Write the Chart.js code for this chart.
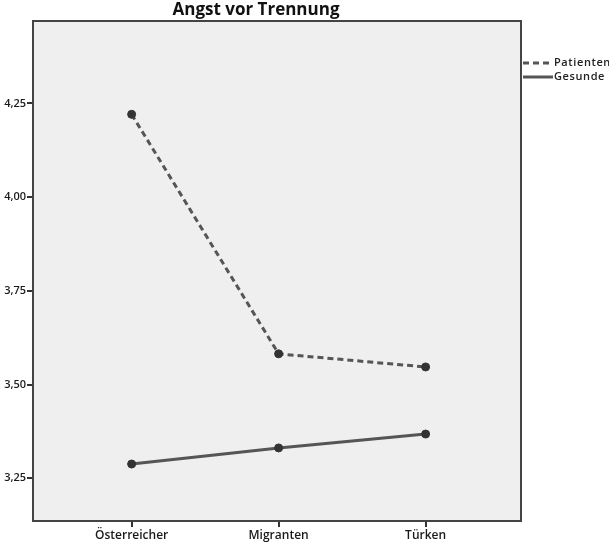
<!DOCTYPE html>
<html><head><meta charset="utf-8">
<script src="https://cdn.jsdelivr.net/npm/chart.js@4/dist/chart.umd.min.js"></script>
<style>html,body{margin:0;padding:0;background:#fff}#wrap{width:609px;height:544px}</style>
</head><body><div id="wrap"><canvas id="c" width="609" height="544"></canvas></div>
<script>
const title = "Angst vor Trennung";
const categories = ["Österreicher", "Migranten", "Türken"];
const patienten = [4.221, 3.582, 3.547];
const gesunde = [3.288, 3.331, 3.368];
const yTicks = [3.25, 3.50, 3.75, 4.00, 4.25];
const seriesNames = ["Patienten", "Gesunde"];

const FONT = "'Open Sans', 'DejaVu Sans', sans-serif";

const framePlugin = {
  id: 'frame',
  beforeDraw(chart) {
    const {ctx, chartArea: a} = chart;
    ctx.save();
    ctx.fillStyle = '#efefef';
    ctx.fillRect(a.left, a.top, a.right - a.left, a.bottom - a.top);
    ctx.restore();
  },
  afterDraw(chart) {
    const {ctx, chartArea: a} = chart;
    ctx.save();
    ctx.strokeStyle = '#444';
    ctx.lineWidth = 2;
    ctx.strokeRect(a.left, a.top, a.right - a.left, a.bottom - a.top);
    // title
    ctx.fillStyle = '#111';
    ctx.font = "bold 17px " + FONT;
    ctx.textAlign = 'center';
    ctx.textBaseline = 'alphabetic';
    ctx.fillText(title, 256, 15);
    // legend
    ctx.font = "600 11px " + FONT;
    try { ctx.letterSpacing = '0.6px'; } catch (e) {}
    ctx.textAlign = 'left';
    ctx.textBaseline = 'middle';
    chart.data.datasets.forEach((ds, i) => {
      const y = 63 + i * 14;
      ctx.strokeStyle = '#555';
      ctx.lineWidth = 3;
      ctx.setLineDash(ds.borderDash ? [6, 4] : []);
      ctx.beginPath();
      ctx.moveTo(523, y); ctx.lineTo(553, y); ctx.stroke();
      ctx.setLineDash([]);
      ctx.fillStyle = '#222';
      ctx.fillText(ds.label, 554, y);
    });
    ctx.restore();
  }
};

new Chart(document.getElementById('c'), {
  type: 'line',
  data: {
    datasets: [
      { label: seriesNames[0], data: patienten.map((v, i) => ({x: i, y: v})),
        borderColor: '#555', borderWidth: 3, borderDash: [6, 4],
        pointRadius: 4, pointBorderWidth: 1, pointBackgroundColor: '#333', pointBorderColor: '#333' },
      { label: seriesNames[1], data: gesunde.map((v, i) => ({x: i, y: v})),
        borderColor: '#555', borderWidth: 3,
        pointRadius: 4, pointBorderWidth: 1, pointBackgroundColor: '#333', pointBorderColor: '#333' }
    ]
  },
  options: {
    responsive: false,
    animation: false,
    layout: { padding: { left: 0, top: 21, right: 88, bottom: 0 } },
    plugins: { legend: { display: false }, title: { display: false }, tooltip: { enabled: false } },
    scales: {
      x: {
        type: 'linear', min: -0.671, max: 2.649,
        afterBuildTicks: s => { s.ticks = categories.map((c, i) => ({value: i})); },
        afterFit: s => { s.height = 23; },
        ticks: { callback: v => categories[v], color: '#1a1a1a', font: { family: FONT, size: 12, weight: '600' }, padding: 1, maxRotation: 0 },
        grid: { drawOnChartArea: false, drawTicks: true, tickLength: 6, color: '#333', lineWidth: 2 },
        border: { display: true, color: '#444', width: 2 }
      },
      y: {
        type: 'linear', min: 3.136, max: 4.47,
        afterBuildTicks: s => { s.ticks = yTicks.map(v => ({value: v})); },
        afterFit: s => { s.width = 33; },
        ticks: { callback: v => v.toFixed(2).replace('.', ','), color: '#1a1a1a', font: { family: FONT, size: 11, weight: '600' }, padding: 1 },
        grid: { drawOnChartArea: false, drawTicks: true, tickLength: 6, color: '#333', lineWidth: 2 },
        border: { display: true, color: '#444', width: 2 }
      }
    }
  },
  plugins: [framePlugin]
});
</script></body></html>
